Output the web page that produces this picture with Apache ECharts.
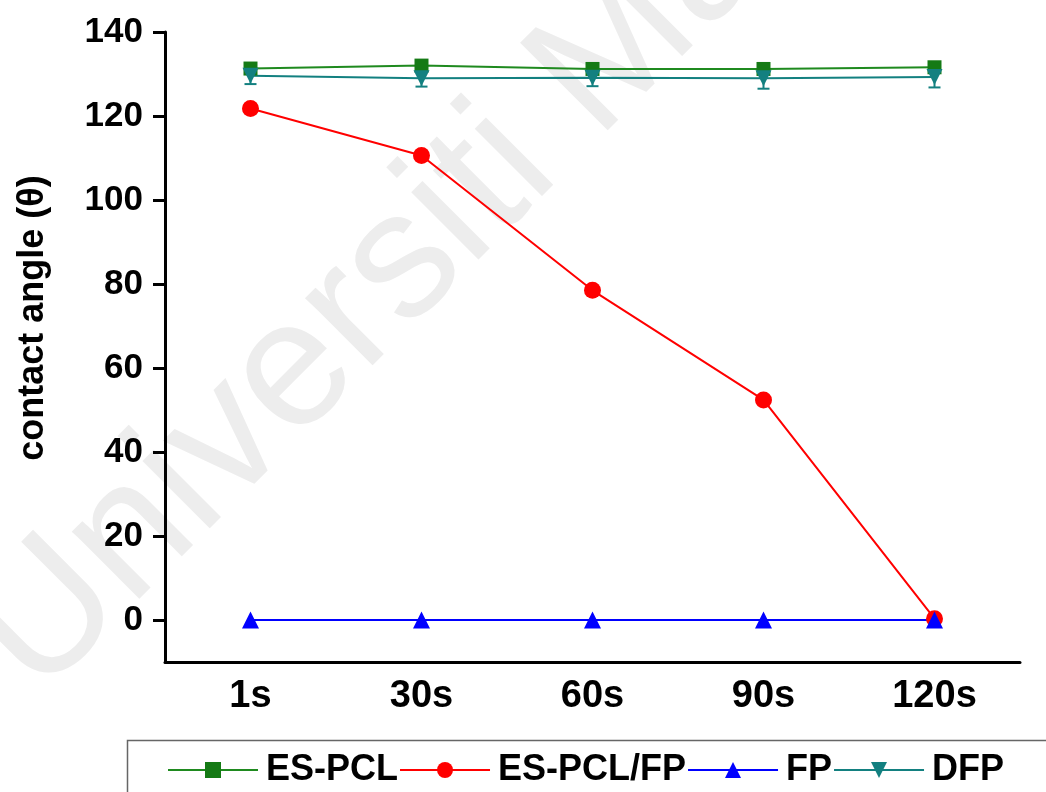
<!DOCTYPE html>
<html>
<head>
<meta charset="utf-8">
<script src="https://cdn.jsdelivr.net/npm/echarts@6/dist/echarts.min.js"></script>
<style>html,body{margin:0;padding:0;background:#fff}#c{width:1046px;height:792px}</style>
</head>
<body>
<div id="c"></div>
<script>
var categories = ['1s', '30s', '60s', '90s', '120s'];
var esPcl = [131.3, 132.0, 131.2, 131.2, 131.6];
var esPclFp = [121.8, 110.6, 78.5, 52.4, 0.3];
var fp = [0, 0, 0, 0, 0];
var dfp = [129.6, 129.0, 129.1, 129.0, 129.3];
var dfpErr = [2.0, 2.0, 2.0, 2.5, 2.5];
var yTicks = [0, 20, 40, 60, 80, 100, 120, 140];

var FONT = '"Liberation Sans", Arial, sans-serif';
var errData = dfp.map(function (v, i) { return [i, v - dfpErr[i], v + dfpErr[i]]; });

var chart = echarts.init(document.getElementById('c'));
chart.setOption({
  animation: false,
  backgroundColor: '#fff',
  grid: {left: 165, right: 26, top: 32, bottom: 130},
  xAxis: {
    type: 'category', data: categories, boundaryGap: true,
    axisLine: {onZero: false, lineStyle: {color: '#000', width: 3}},
    axisTick: {alignWithLabel: true, length: 12, lineStyle: {color: '#000', width: 3}},
    axisLabel: {color: '#000', fontFamily: FONT, fontWeight: 'bold', fontSize: 38, margin: 16},
    splitLine: {show: false}
  },
  yAxis: {
    type: 'value', min: -10, max: 140,
    axisLine: {show: true, lineStyle: {color: '#000', width: 3}},
    axisTick: {show: true, length: 12, customValues: yTicks, lineStyle: {color: '#000', width: 3}},
    axisLabel: {customValues: yTicks, color: '#000', fontFamily: FONT, fontWeight: 'bold', fontSize: 35, margin: 22},
    splitLine: {show: false}
  },
  legend: {
    left: 162, top: 747, itemGap: 1, itemWidth: 90, itemHeight: 20,
    textStyle: {color: '#000', fontFamily: FONT, fontWeight: 'bold', fontSize: 36, padding: [0, 0, 0, 3]},
    data: ['ES-PCL', 'ES-PCL/FP', 'FP', 'DFP']
  },
  graphic: [
    {type: 'text', z: -10, x: 67, y: 728, rotation: Math.PI / 4, silent: true,
     style: {text: 'Universiti Malaya', fill: '#ededed', font: '180px ' + FONT, verticalAlign: 'bottom'}},
    {type: 'rect', shape: {x: 127.5, y: 740.5, width: 1000, height: 80},
     style: {fill: 'none', stroke: '#666', lineWidth: 1.5}, silent: true},
    {type: 'text', x: 33, y: 318, rotation: Math.PI / 2, silent: true,
     style: {text: 'contact angle (\u03b8)', fill: '#000', font: 'bold 36px ' + FONT, align: 'center', verticalAlign: 'middle'}}
  ],
  series: [
    {name: 'ES-PCL', type: 'line', data: esPcl, symbol: 'rect', symbolSize: 14,
     lineStyle: {color: '#1f8a1f', width: 2}, itemStyle: {color: '#157a15'}},
    {name: 'ES-PCL/FP', type: 'line', data: esPclFp, symbol: 'circle', symbolSize: 17,
     lineStyle: {color: '#ff0000', width: 2}, itemStyle: {color: '#ff0000'}},
    {name: 'FP', type: 'line', data: fp, symbol: 'triangle', symbolSize: 17,
     lineStyle: {color: '#0000ff', width: 2}, itemStyle: {color: '#0000ff'}},
    {name: 'DFP', type: 'line', data: dfp, symbol: 'triangle', symbolRotate: 180, symbolSize: 16,
     lineStyle: {color: '#138080', width: 2}, itemStyle: {color: '#138080'}},
    {name: 'DFP err', type: 'custom', data: errData, z: 1, silent: true,
     renderItem: function (params, api) {
       var lo = api.coord([api.value(0), api.value(1)]);
       var hi = api.coord([api.value(0), api.value(2)]);
       var w = 6;
       var st = {stroke: '#138080', lineWidth: 2};
       return {type: 'group', children: [
         {type: 'line', shape: {x1: lo[0], y1: lo[1], x2: hi[0], y2: hi[1]}, style: st},
         {type: 'line', shape: {x1: lo[0] - w, y1: lo[1], x2: lo[0] + w, y2: lo[1]}, style: st},
         {type: 'line', shape: {x1: hi[0] - w, y1: hi[1], x2: hi[0] + w, y2: hi[1]}, style: st}
       ]};
     }}
  ]
});
</script>
</body>
</html>
